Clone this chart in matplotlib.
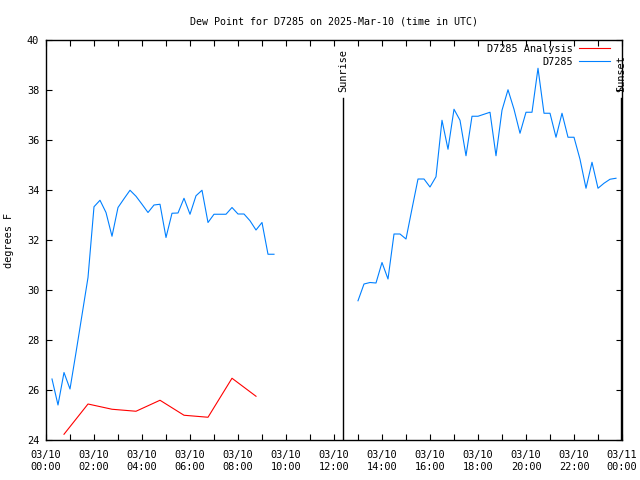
import numpy as np
import matplotlib
matplotlib.use("Agg")
import matplotlib.pyplot as plt

plt.rcParams['font.family'] = ['DejaVu Sans Mono']
plt.rcParams['font.size'] = 7.4

# observed dew point, every 15 minutes (hours UTC)
obs_t1 = np.arange(0.25, 9.51, 0.25)
obs_v1 = [26.44, 25.4, 26.7, 26.04, 27.5, 29.0, 30.5, 33.33, 33.59, 33.1,
          32.15, 33.3, 33.65, 33.99, 33.75, 33.43, 33.1, 33.4, 33.43, 32.1,
          33.07, 33.08, 33.67, 33.03, 33.77, 33.99, 32.7, 33.03, 33.03, 33.03,
          33.3, 33.04, 33.04, 32.77, 32.4, 32.7, 31.43, 31.43]
obs_t2 = np.arange(13.0, 23.76, 0.25)
obs_v2 = [29.57, 30.24, 30.3, 30.28, 31.1, 30.44, 32.24, 32.24, 32.04, 33.25,
          34.44, 34.44, 34.12, 34.53, 36.79, 35.63, 37.23, 36.79, 35.37, 36.95,
          36.95, 37.03, 37.11, 35.37, 37.19, 38.01, 37.23, 36.27, 37.11, 37.11,
          38.87, 37.07, 37.07, 36.11, 37.07, 36.11, 36.11, 35.23, 34.07, 35.11,
          34.07, 34.27, 34.43, 34.47]

# analysis, hourly
ana_t = np.arange(0.75, 8.76, 1.0)
ana_v = [24.23, 25.44, 25.23, 25.15, 25.59, 24.99, 24.91, 26.47, 25.75]

sunrise = 12.375
sunset = 23.95

tick_hours = list(range(0, 25, 2))
tick_labels = ["03/10\n%02d:00" % h for h in range(0, 24, 2)] + ["03/11\n00:00"]

fig = plt.figure(figsize=(6.4, 4.8), dpi=100)
ax = fig.add_axes([46/640, 40/480, 576/640, 400/480])

obs_t = np.concatenate([obs_t1, [np.nan], obs_t2])
obs_v = np.concatenate([obs_v1, [np.nan], obs_v2])

ax.plot(ana_t, ana_v, color='#ff0000', lw=0.8, label='D7285 Analysis')
ax.plot(obs_t, obs_v, color='#0080ff', lw=0.8, label='D7285')

# sunrise / sunset markers
for t, name in [(sunrise, 'Sunrise'), (sunset, 'Sunset')]:
    ax.plot([t, t], [24, 37.68], color='k', lw=1.0)
    ax.text(t, 37.9, name, rotation=90, ha='center', va='bottom')

ax.set_xlim(0, 24)
ax.set_ylim(24, 40)
ax.set_xticks(tick_hours)
ax.set_xticklabels(tick_labels, linespacing=1.25)
ax.set_xticks(range(0, 25), minor=True)
ax.set_yticks(range(24, 41, 2))
ax.tick_params(which='both', direction='in', top=True, right=True,
               length=4, width=0.8)
ax.tick_params(axis='x', pad=7)
ax.tick_params(axis='y', pad=5)
for s in ax.spines.values():
    s.set_linewidth(1.0)

ax.set_ylabel('degrees F', labelpad=9)
ax.set_title('Dew Point for D7285 on 2025-Mar-10 (time in UTC)',
             fontsize=7.2, pad=11.5)

ax.legend(loc='upper right', bbox_to_anchor=(0.983, 0.995), frameon=False,
          markerfirst=False, handlelength=3.0, handletextpad=0.6,
          labelspacing=0.25, borderaxespad=0.0, borderpad=0.2)

fig.savefig('out.png', dpi=100)
